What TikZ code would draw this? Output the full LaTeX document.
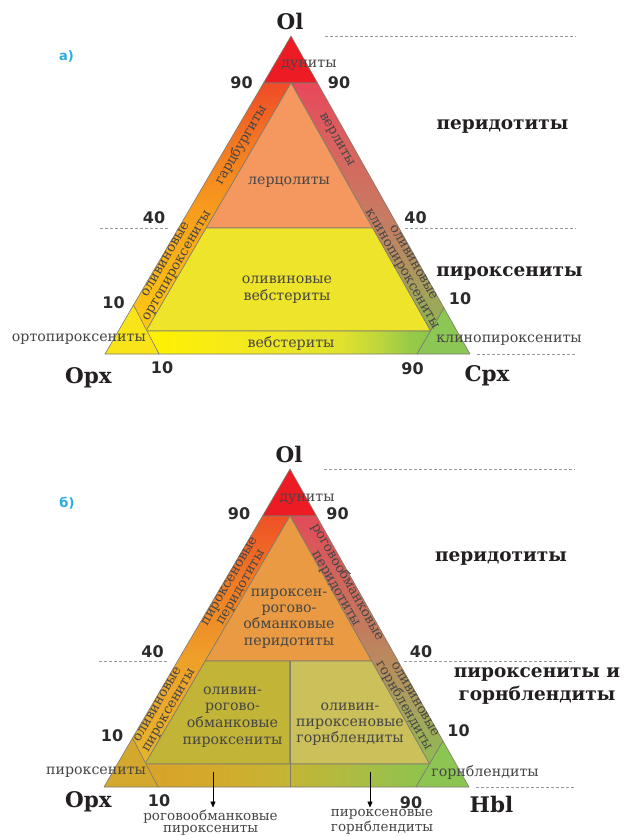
\documentclass[tikz,border=0pt]{standalone}
\usepackage{fontspec}
\setmainfont{DejaVu Serif}
\newfontfamily\figfont{DejaVu Sans}
\usetikzlibrary{arrows.meta}

% ---------- colours ----------
\definecolor{dun}{HTML}{ED1C24}
\definecolor{lerz}{HTML}{F49860}
\definecolor{webst}{HTML}{EEE42A}
\definecolor{opxcorner}{HTML}{F8E419}
\definecolor{cpxcorner}{HTML}{8CC655}
\definecolor{pxper}{HTML}{E99A43}
\definecolor{olhbpx}{HTML}{C1B437}
\definecolor{olpxhb}{HTML}{CBC05A}
\definecolor{pxcorner}{HTML}{D4A82C}
\definecolor{hblcorner}{HTML}{8DC553}
\definecolor{edge}{HTML}{7D7B6E}
\definecolor{guidegray}{HTML}{9A9A9A}
\definecolor{rockgray}{HTML}{464646}
\definecolor{ink}{HTML}{231F20}
\definecolor{numink}{HTML}{2B2B2B}
\definecolor{panelblue}{HTML}{29ABE2}
% band and strip gradient stops
\definecolor{tlA}{HTML}{FCCB12}\definecolor{tlB}{HTML}{F8A51B}
\definecolor{tlC}{HTML}{F47B21}\definecolor{tlD}{HTML}{EF4B27}
\definecolor{trA}{HTML}{8FB64F}\definecolor{trB}{HTML}{A89C5D}
\definecolor{trC}{HTML}{C47E62}\definecolor{trD}{HTML}{D8645F}
\definecolor{trE}{HTML}{E8485A}
\definecolor{blA}{HTML}{E4B52C}\definecolor{blB}{HTML}{EFA02A}
\definecolor{blC}{HTML}{F07A25}\definecolor{blD}{HTML}{EE5126}
\definecolor{brA}{HTML}{8FBC52}\definecolor{brB}{HTML}{A6A35C}
\definecolor{brC}{HTML}{B98A5E}\definecolor{brD}{HTML}{D0665C}
\definecolor{brE}{HTML}{E24C58}
\definecolor{tsA}{HTML}{FFF100}\definecolor{tsB}{HTML}{F3E91F}
\definecolor{tsC}{HTML}{E2E22C}\definecolor{tsD}{HTML}{BDD63C}
\definecolor{tsE}{HTML}{9ACB47}\definecolor{tsF}{HTML}{8CC54C}
\definecolor{bsA}{HTML}{D9A229}\definecolor{bsB}{HTML}{D2AB2C}
\definecolor{bsC}{HTML}{C4B535}\definecolor{bsD}{HTML}{AEBB42}
\definecolor{bsE}{HTML}{98C14A}\definecolor{bsF}{HTML}{8DC44E}

% ---------- shadings ----------
\pgfdeclareverticalshading{bandTL}{100bp}{color(0bp)=(tlA); color(25bp)=(tlA); color(46bp)=(tlB); color(62bp)=(tlC); color(75bp)=(tlD); color(100bp)=(tlD)}
\pgfdeclareverticalshading{bandTR}{100bp}{color(0bp)=(trA); color(25bp)=(trA); color(35bp)=(trB); color(46bp)=(trC); color(62bp)=(trD); color(75bp)=(trE); color(100bp)=(trE)}
\pgfdeclareverticalshading{bandBL}{100bp}{color(0bp)=(blA); color(25bp)=(blA); color(46bp)=(blB); color(62bp)=(blC); color(75bp)=(blD); color(100bp)=(blD)}
\pgfdeclareverticalshading{bandBR}{100bp}{color(0bp)=(brA); color(25bp)=(brA); color(36bp)=(brB); color(46bp)=(brC); color(62bp)=(brD); color(75bp)=(brE); color(100bp)=(brE)}
\pgfdeclarehorizontalshading{stripT}{100bp}{color(0bp)=(tsA); color(25bp)=(tsA); color(43bp)=(tsB); color(59bp)=(tsC); color(66bp)=(tsD); color(71bp)=(tsE); color(75bp)=(tsF); color(100bp)=(tsF)}
\pgfdeclarehorizontalshading{stripB}{100bp}{color(0bp)=(bsA); color(25bp)=(bsA); color(38bp)=(bsB); color(50.5bp)=(bsC); color(61bp)=(bsD); color(69.6bp)=(bsE); color(75bp)=(bsF); color(100bp)=(bsF)}

\tikzset{
  zone/.style={draw=edge, line width=0.6pt, line join=round},
  guide/.style={draw=guidegray, line width=0.6pt, dash pattern=on 3pt off 2pt},
  rock/.style={font=\fontsize{14.2}{16.5}\selectfont, text=rockgray, inner sep=0pt, align=center},
  bandtext/.style={font=\fontsize{13.3}{13}\selectfont, text=rockgray, inner sep=0pt, align=center},
  num/.style={font=\figfont\bfseries\fontsize{16}{16}\selectfont, text=numink, inner sep=0pt},
  corner/.style={font=\bfseries\fontsize{21.5}{21.5}\selectfont, text=ink, inner sep=0pt, anchor=base},
  group/.style={font=\bfseries\fontsize{18.5}{23}\selectfont, text=ink, inner sep=0pt, anchor=base},
  panel/.style={font=\figfont\bfseries\fontsize{13}{13}\selectfont, text=panelblue, inner sep=0pt},
  pointer/.style={draw=black, line width=0.6pt, -{Triangle[length=6pt,width=5pt]}},
}

% common frame of a ternary diagram (corners, field boundaries, guide ends)
\newcommand\triframe{%
  \coordinate (A)  at (291,36);
  \coordinate (L)  at (105,354);
  \coordinate (R)  at (470,354);
  \coordinate (D1) at (263.5,83);
  \coordinate (D2) at (317.5,83);
  \coordinate (I)  at (291,83);
  \coordinate (P)  at (206.2,228);
  \coordinate (Q)  at (372.6,228);
  \coordinate (M)  at (146,331);
  \coordinate (N)  at (430.6,331);
  \coordinate (E1) at (133.5,305);
  \coordinate (E2) at (444,308);
  \coordinate (B1) at (159,354);
  \coordinate (B2) at (417,354);
  \coordinate (g1a) at (325,36);  \coordinate (g1b) at (576,36);
  \coordinate (g2a) at (100,228); \coordinate (g2b) at (170,228);
  \coordinate (g3a) at (405,228); \coordinate (g3b) at (576,228);
  \coordinate (g4a) at (477,354); \coordinate (g4b) at (576,354);
  \draw[guide] (g1a) -- (g1b);
  \draw[guide] (g2a) -- (g2b);
  \draw[guide] (g3a) -- (g3b);
  \draw[guide] (g4a) -- (g4b);
}

\begin{document}
\begin{tikzpicture}[x=1pt,y=-1pt]
\useasboundingbox (0,0) rectangle (624,836);
\fill[white] (0,0) rectangle (624,836);

% ================= upper diagram: Ol - Opx - Cpx =================
\begin{scope}[name prefix=u-]
  \triframe
  \path[zone, fill=dun] (A) -- (D2) -- (D1) -- cycle;
  \path[zone, shade, shading=bandTL] (D1) -- (I) -- (M) -- (E1) -- cycle;
  \path[zone, shade, shading=bandTR] (D2) -- (I) -- (N) -- (E2) -- cycle;
  \path[zone, fill=lerz] (I) -- (Q) -- (P) -- cycle;
  \path[zone, fill=webst] (P) -- (Q) -- (N) -- (M) -- cycle;
  \path[zone, shade, shading=stripT] (M) -- (N) -- (B2) -- (B1) -- cycle;
  \path[zone, fill=opxcorner] (L) -- (E1) -- (B1) -- cycle;
  \path[zone, fill=cpxcorner] (R) -- (E2) -- (B2) -- cycle;

  \node[panel] (tag) at (66.5,56) {а)};
  \node[corner] (ol) at (290,29.7) {Ol};
  \node[corner] (opx) at (88.5,383) {Opx};
  \node[corner] (cpx) at (487,381) {Cpx};

  \node[num] (n90l) at (241.5,82.5) {90};
  \node[num] (n90r) at (339,82.5) {90};
  \node[num] (n40l) at (154,218) {40};
  \node[num] (n40r) at (415.5,218) {40};
  \node[num] (n10l) at (113.5,303) {10};
  \node[num] (n10r) at (460,298.5) {10};
  \node[num] (n10b) at (162,367.5) {10};
  \node[num] (n90b) at (412.5,369) {90};

  \node[group] (gper) at (502.5,129) {перидотиты};
  \node[group] (gpyr) at (509.5,276) {пироксениты};

  \node[rock] (dunite) at (309,65) {дуниты};
  \node[rock] (lherz) at (289,182) {лерцолиты};
  \node[rock] (olweb) at (287,289.5) {оливиновые\\вебстериты};
  \node[rock] (web) at (291,343) {вебстериты};
  \node[rock, anchor=east] (orthopx) at (146,339) {ортопироксениты};
  \node[rock] (clinopx) at (509,340) {клинопироксениты};

  \node[bandtext, rotate=60] (harz) at (241,145) {гарцбургиты};
  \node[bandtext, rotate=-60] (wehr) at (336.3,140) {верлиты};
  \node[bandtext, rotate=60] (olopx) at (172,263) {оливиновые\\ортопироксениты};
  \node[bandtext, rotate=-60] (olcpx) at (407,266) {оливиновые\\клинопироксениты};
\end{scope}

% ================= lower diagram: Ol - Opx - Hbl =================
\begin{scope}[shift={(-1,433)}, name prefix=b-]
  \triframe
  \coordinate (V1) at (291,228);
  \coordinate (V2) at (291,354);
  \path[zone, fill=dun] (A) -- (D2) -- (D1) -- cycle;
  \path[zone, shade, shading=bandBL] (D1) -- (I) -- (M) -- (E1) -- cycle;
  \path[zone, shade, shading=bandBR] (D2) -- (I) -- (N) -- (E2) -- cycle;
  \path[zone, fill=pxper] (I) -- (Q) -- (P) -- cycle;
  \path[zone, fill=olhbpx] (P) -- (V1) -- (291,331) -- (M) -- cycle;
  \path[zone, fill=olpxhb] (V1) -- (Q) -- (N) -- (291,331) -- cycle;
  \path[zone, shade, shading=stripB] (M) -- (N) -- (B2) -- (B1) -- cycle;
  \path[zone, fill=pxcorner] (L) -- (E1) -- (B1) -- cycle;
  \path[zone, fill=hblcorner] (R) -- (E2) -- (B2) -- cycle;
  \draw[zone] (V1) -- (V2);

  \node[panel] (tag) at (68,70) {б)};
  \node[corner] (ol) at (290,29.7) {Ol};
  \node[corner] (opx) at (89.5,374) {Opx};
  \node[corner] (hbl) at (492.5,379.5) {Hbl};

  \node[num] (n90l) at (240,81) {90};
  \node[num] (n90r) at (338.5,81) {90};
  \node[num] (n40l) at (153.5,219) {40};
  \node[num] (n40r) at (422,219) {40};
  \node[num] (n10l) at (113,303) {10};
  \node[num] (n10r) at (459.5,298) {10};
  \node[num] (n10b) at (160,368) {10};
  \node[num] (n90b) at (412,369.5) {90};

  \node[group] (gper) at (502,128.5) {перидотиты};
  \node[group, align=center] (gpyr) at (538,267) {пироксениты и\\горнблендиты};

  \node[rock] (dunite) at (308,66) {дуниты};
  \node[rock, font=\fontsize{14.2}{16.3}\selectfont] (pxhbper) at (290,185.5) {пироксен-\\рогово-\\обманковые\\перидотиты};
  \node[rock, font=\fontsize{14.2}{16.7}\selectfont] (olhbpxn) at (233.5,284) {оливин-\\рогово-\\обманковые\\пироксениты};
  \node[rock, font=\fontsize{14.2}{16}\selectfont] (olpxhbn) at (351,291) {оливин-\\пироксеновые\\горнблендиты};
  \node[rock] (pyrox) at (97,339) {пироксениты};
  \node[rock] (hornbl) at (486,339) {горнблендиты};

  \node[bandtext, rotate=60] (pxper) at (237,152) {пироксеновые\\перидотиты};
  \node[bandtext, rotate=-60] (hbper) at (343,152) {роговообманковые\\перидотиты};
  \node[bandtext, rotate=60] (olpx) at (165,275) {оливиновые\\пироксениты};
  \node[bandtext, rotate=-60] (olhb) at (409.5,270) {оливиновые\\горнблендиты};

  \node[rock, font=\fontsize{13.5}{12.5}\selectfont, anchor=north] (hbpx) at (211.5,376.5) {роговообманковые\\пироксениты};
  \node[rock, font=\fontsize{13.5}{12.5}\selectfont, anchor=north] (pxhb) at (383,376.5) {пироксеновые\\горнблендиты};
  \coordinate (s1) at (214,339);
  \coordinate (s2) at (371,339);
  \draw[pointer, shorten >=2pt] (s1) -- (s1 |- hbpx.north);
  \draw[pointer, shorten >=2pt] (s2) -- (s2 |- pxhb.north);
\end{scope}
\end{tikzpicture}
\end{document}
